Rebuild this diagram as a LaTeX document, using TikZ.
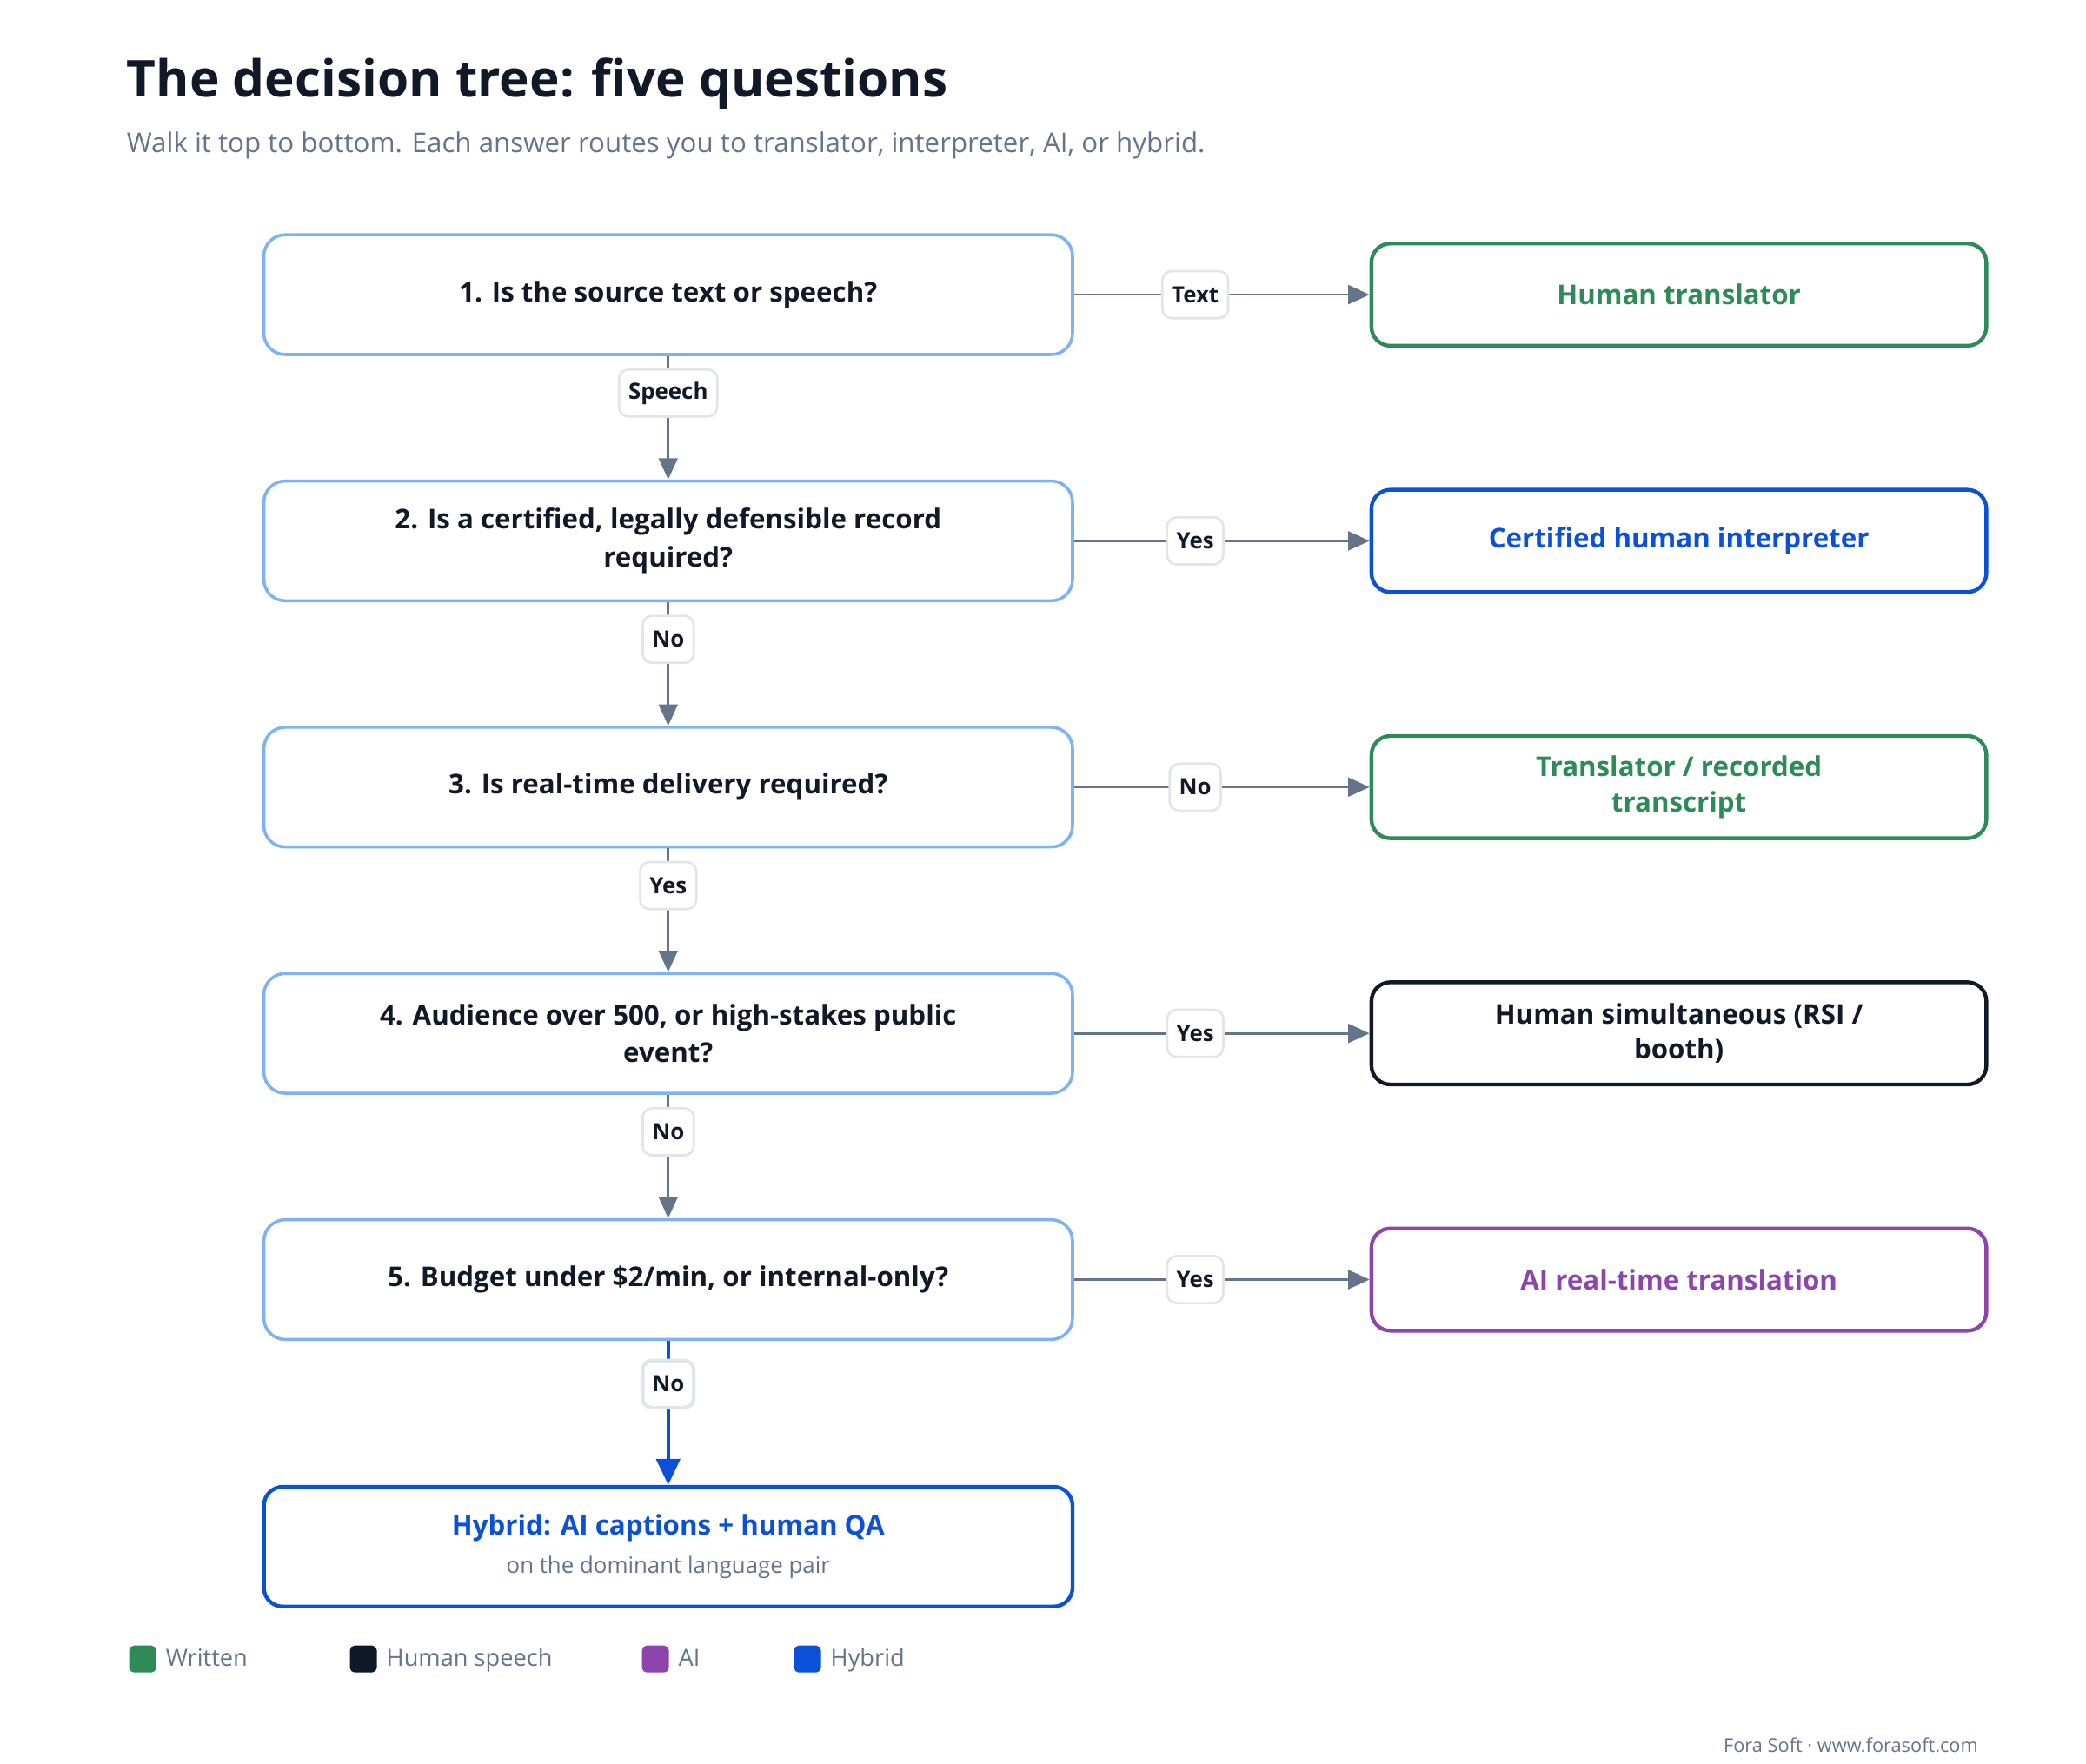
\documentclass[tikz,border=0pt]{standalone}
\usepackage{fontspec}
\setmainfont{Open Sans}
\usetikzlibrary{arrows.meta,positioning}
\definecolor{inkdark}{HTML}{111827}
\definecolor{slategray}{HTML}{64748B}
\definecolor{qblue}{HTML}{7DB3F2}
\definecolor{writtengreen}{HTML}{2E8B57}
\definecolor{hybridblue}{HTML}{0B50D8}
\definecolor{aipurple}{HTML}{8E44AD}
\definecolor{tagborder}{HTML}{E2E5EA}
\tikzset{
  question/.style={draw=qblue, line width=1.3pt, rounded corners=9pt, fill=white,
    minimum width=12.02cm, minimum height=1.78cm, align=center,
    font=\fontsize{11.5}{16}\selectfont\bfseries, text=inkdark},
  outcome/.style={draw=#1, line width=1.6pt, rounded corners=8pt, fill=white,
    minimum width=9.14cm, minimum height=1.52cm, align=center,
    font=\fontsize{11.5}{15}\selectfont\bfseries, text=#1},
  tag/.style={draw=tagborder, fill=white, rounded corners=4pt, inner sep=4pt,
    minimum height=0.7cm, font=\fontsize{9.5}{12}\selectfont\bfseries, text=inkdark},
  flow/.style={draw=slategray, line width=1pt, -{Triangle[length=9pt,width=8pt]}},
  swatch/.style={fill=#1, rounded corners=2pt, minimum size=0.4cm, inner sep=0pt},
  legend/.style={font=\fontsize{10}{12}\selectfont, text=slategray, anchor=west,
    text height=1.6ex, text depth=0.4ex}
}
\begin{document}
\begin{tikzpicture}[x=0.02cm, y=-0.02cm]
    \useasboundingbox (0,0) rectangle (1550,1311);

    % Heading
    \node[anchor=west, font=\fontsize{21.5}{26}\selectfont\bfseries, text=inkdark] (title) at (88,62) {The decision tree: five questions};
    \node[anchor=west, font=\fontsize{11.5}{15}\selectfont, text=slategray] (subtitle) at (88,108) {Walk it top to bottom. Each answer routes you to translator, interpreter, AI, or hybrid.};

    % Questions
    \node[question] (q1) at (496.5,219) {1. Is the source text or speech?};
    \node[question] (q2) at (496.5,402) {2. Is a certified, legally defensible record\\required?};
    \node[question] (q3) at (496.5,585) {3. Is real-time delivery required?};
    \node[question] (q4) at (496.5,768) {4. Audience over 500, or high-stakes public\\event?};
    \node[question] (q5) at (496.5,951) {5. Budget under \$2/min, or internal-only?};

    % Outcomes
    \node[outcome=writtengreen] (translator) at (1247.5,219) {Human translator};
    \node[outcome=hybridblue] (certified) at (1247.5,402) {Certified human interpreter};
    \node[outcome=writtengreen] (recorded) at (1247.5,585) {Translator / recorded\\transcript};
    \node[outcome=inkdark] (simultaneous) at (1247.5,768) {Human simultaneous (RSI /\\booth)};
    \node[outcome=aipurple] (airt) at (1247.5,951) {AI real-time translation};
    \node[outcome=hybridblue, minimum width=12.02cm, minimum height=1.78cm] (hybrid) at (496.5,1149.5)
        {Hybrid: AI captions + human QA\\[1pt]{\fontsize{9.5}{12}\selectfont\mdseries\color{slategray}on the dominant language pair}};

    % Branches to the right
    \draw[flow] (q1) -- node[tag, pos=0.41] {Text} (translator);
    \draw[flow] (q2) -- node[tag, pos=0.41] {Yes} (certified);
    \draw[flow] (q3) -- node[tag, pos=0.41] {No} (recorded);
    \draw[flow] (q4) -- node[tag, pos=0.41] {Yes} (simultaneous);
    \draw[flow] (q5) -- node[tag, pos=0.41] {Yes} (airt);

    % Main path down
    \draw[flow] (q1) -- node[tag, pos=0.3] {Speech} (q2);
    \draw[flow] (q2) -- node[tag, pos=0.3] {No} (q3);
    \draw[flow] (q3) -- node[tag, pos=0.3] {Yes} (q4);
    \draw[flow] (q4) -- node[tag, pos=0.3] {No} (q5);
    \draw[flow, draw=hybridblue, line width=1.6pt, -{Triangle[length=11pt,width=10pt]}] (q5) -- node[tag, pos=0.3] {No} (hybrid);

    % Legend
    \node[swatch=writtengreen] (sw1) at (106,1233) {};
    \node[legend] (lg1) at (117,1233) {Written};
    \node[swatch=inkdark] (sw2) at (270,1233) {};
    \node[legend] (lg2) at (281,1233) {Human speech};
    \node[swatch=aipurple] (sw3) at (487,1233) {};
    \node[legend] (lg3) at (498,1233) {AI};
    \node[swatch=hybridblue] (sw4) at (600,1233) {};
    \node[legend] (lg4) at (611,1233) {Hybrid};

    % Footer
    \node[anchor=east, font=\fontsize{8}{10}\selectfont, text=slategray] (footer) at (1476,1297) {Fora Soft · www.forasoft.com};
\end{tikzpicture}
\end{document}
